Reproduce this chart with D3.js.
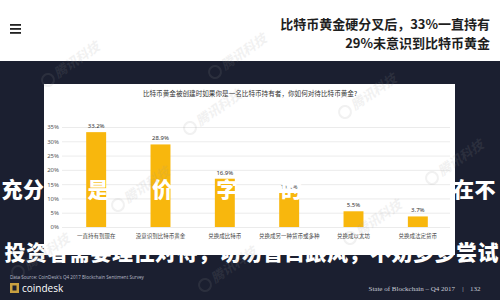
<!DOCTYPE html>
<html>
<head>
<meta charset="utf-8">
<script src="https://cdn.jsdelivr.net/npm/d3@7"></script>
<style>
  html, body { margin: 0; padding: 0; background: #fff; }
  svg { display: block; }
</style>
</head>
<body>
<div id="chart"></div>
<script>
const titleLines = ["比特币黄金硬分叉后，33%一直持有", "29%未意识到比特币黄金"];
const panelTitle = "比特币黄金被创建时如果你是一名比特币持有者，你如何对待比特币黄金?";
const categories = [
  "一直持有到现在",
  "没意识到比特币黄金",
  "兑换成比特币",
  "兑换成另一种货币或多种",
  "兑换成以太坊",
  "兑换成法定货币",
];
const values = [33.2, 28.9, 16.9, 11.9, 5.5, 3.7];
const yTicks = [0, 5, 10, 15, 20, 25, 30, 35];
// overlay brush text; spaces stand where the white glyphs vanish on the white panel
const overlayRows = [
  "充分  是  价  字  的       在不",
  "投资者需要理性对待，切勿盲目跟风，不妨多多尝试",
];
const sourceText = "Data Source: CoinDesk's Q4 2017 Blockchain Sentiment Survey";
const footerText = "State of Blockchain – Q4 2017";
const pageNumber = "132";
const watermarks = [[48, 80], [215, 72], [345, 112], [190, 128], [118, 205], [432, 178], [18, 272], [205, 285], [350, 238]];

class BarChart {
  constructor(el) {
    this.el = el;
    this.width = 500;
    this.height = 300;
    this.setup();
    this.scaffold();
    this.render();
  }

  setup() {
    this.cjk = "'Noto Sans CJK SC', 'Noto Sans', sans-serif";
    this.panel = { x: 44, y: 84, w: 411, h: 171 };

    this.x = d3
      .scaleBand()
      .domain(categories)
      .range([64, 450])
      .paddingInner(0.69)
      .paddingOuter(0.345);

    this.y = d3.scaleLinear().domain([0, 35]).range([227, 127]);
  }

  scaffold() {
    this.svg = d3
      .select(this.el)
      .append("svg")
      .attr("width", this.width)
      .attr("height", this.height)
      .attr("viewBox", [0, 0, this.width, this.height]);

    this.svg.append("rect").attr("width", this.width).attr("height", this.height).attr("fill", "#fff");
    this.svg
      .append("rect")
      .attr("y", 61)
      .attr("width", this.width)
      .attr("height", this.height - 61)
      .attr("fill", "#1b1f30");

    this.g = this.svg.append("g");
  }

  render() {
    this.renderHeader();
    this.renderPanel();
    this.renderAxis();
    this.renderBars();
    this.renderOverlay();
    this.renderFooter();
    this.renderWatermarks();
  }

  renderHeader() {
    // hamburger icon
    this.g
      .selectAll(".menu-line")
      .data([0, 1, 2])
      .join("rect")
      .attr("class", "menu-line")
      .attr("x", 10)
      .attr("y", (d) => 24 + d * 4)
      .attr("width", 11)
      .attr("height", 1.8)
      .attr("fill", "#222");

    this.g
      .selectAll(".title")
      .data(titleLines)
      .join("text")
      .attr("class", "title")
      .attr("x", 490)
      .attr("y", (d, i) => 24 + i * 19)
      .attr("dy", "0.35em")
      .attr("text-anchor", "end")
      .attr("font-family", this.cjk)
      .attr("font-weight", 700)
      .attr("font-size", 13)
      .attr("fill", "#1e1e1e")
      .text((d) => d);
  }

  renderPanel() {
    const p = this.panel;
    this.g
      .append("rect")
      .attr("x", p.x)
      .attr("y", p.y)
      .attr("width", p.w)
      .attr("height", p.h)
      .attr("fill", "#fff");

    this.g
      .append("text")
      .attr("x", 250)
      .attr("y", 94)
      .attr("dy", "0.35em")
      .attr("text-anchor", "middle")
      .attr("font-family", this.cjk)
      .attr("font-size", 6.6)
      .attr("fill", "#333")
      .text(panelTitle);
  }

  renderAxis() {
    this.g
      .append("g")
      .attr("transform", "translate(62,0)")
      .call(
        d3
          .axisLeft(this.y)
          .tickValues(yTicks)
          .tickSize(-388)
          .tickPadding(3)
          .tickFormat((d) => d + "%")
      )
      .call((g) => g.select(".domain").remove())
      .call((g) => g.selectAll(".tick line").attr("stroke", "#e6e6e6").attr("stroke-width", 0.8))
      .call((g) =>
        g
          .selectAll(".tick text")
          .attr("font-family", "'Noto Sans', sans-serif")
          .attr("font-size", 6)
          .attr("fill", "#555")
      );

    this.g
      .selectAll(".cat-label")
      .data(categories)
      .join("text")
      .attr("class", "cat-label")
      .attr("x", (d) => this.x(d) + this.x.bandwidth() / 2)
      .attr("y", 236.5)
      .attr("dy", "0.35em")
      .attr("text-anchor", "middle")
      .attr("font-family", this.cjk)
      .attr("font-size", 5.5)
      .attr("fill", "#444")
      .text((d) => d);
  }

  renderBars() {
    this.g
      .selectAll(".bar")
      .data(values)
      .join("rect")
      .attr("class", "bar")
      .attr("x", (d, i) => this.x(categories[i]))
      .attr("y", (d) => this.y(d))
      .attr("width", this.x.bandwidth())
      .attr("height", (d) => this.y(0) - this.y(d))
      .attr("fill", "#f8b70d");

    this.g
      .selectAll(".bar-label")
      .data(values)
      .join("text")
      .attr("class", "bar-label")
      .attr("x", (d, i) => this.x(categories[i]) + this.x.bandwidth() / 2)
      .attr("y", (d) => this.y(d) - 4)
      .attr("text-anchor", "middle")
      .attr("font-family", "'Noto Sans', sans-serif")
      .attr("font-size", 6)
      .attr("fill", "#333")
      .text((d) => d.toFixed(1) + "%");
  }

  renderOverlay() {
    const rowY = [190, 253];
    const rowX = [12, 15];
    const step = 21.5;
    overlayRows.forEach((row, r) => {
      const chars = Array.from(row)
        .map((c, i) => ({ c, i }))
        .filter((d) => d.c !== " ");
      this.g
        .append("g")
        .selectAll("text")
        .data(chars)
        .join("text")
        .attr("x", (d) => rowX[r] + d.i * step)
        .attr("y", rowY[r])
        .attr("dy", "0.35em")
        .attr("text-anchor", "middle")
        .attr("font-family", this.cjk)
        .attr("font-weight", 900)
        .attr("font-size", 21)
        .attr("fill", "#fff")
        .text((d) => d.c);
    });
  }

  renderFooter() {
    this.g
      .append("text")
      .attr("x", 10)
      .attr("y", 277)
      .attr("dy", "0.35em")
      .attr("font-family", "'Open Sans', sans-serif")
      .attr("font-size", 4.6)
      .attr("fill", "#b8bcc8")
      .text(sourceText);

    this.g.append("rect").attr("x", 10).attr("y", 283).attr("width", 9).attr("height", 10).attr("fill", "#c8a040");
    this.g.append("rect").attr("x", 12.5).attr("y", 285.5).attr("width", 4).attr("height", 5).attr("fill", "#1b1f30");
    this.g
      .append("text")
      .attr("x", 22)
      .attr("y", 288)
      .attr("dy", "0.35em")
      .attr("font-family", "'Open Sans', sans-serif")
      .attr("font-size", 10)
      .attr("fill", "#fff")
      .text("coindesk");

    this.g
      .append("text")
      .attr("x", 455)
      .attr("y", 289)
      .attr("dy", "0.35em")
      .attr("text-anchor", "end")
      .attr("font-family", "'Liberation Serif', serif")
      .attr("font-size", 7)
      .attr("fill", "#c9ccd6")
      .text(footerText);
    this.g
      .append("text")
      .attr("x", 463)
      .attr("y", 289)
      .attr("dy", "0.35em")
      .attr("text-anchor", "middle")
      .attr("font-family", "'Liberation Serif', serif")
      .attr("font-size", 7)
      .attr("fill", "#c9ccd6")
      .text("|");
    this.g
      .append("text")
      .attr("x", 470)
      .attr("y", 289)
      .attr("dy", "0.35em")
      .attr("font-family", "'Liberation Serif', serif")
      .attr("font-size", 7)
      .attr("fill", "#c9ccd6")
      .text(pageNumber);
  }

  renderWatermarks() {
    const wm = this.g
      .selectAll(".wm")
      .data(watermarks)
      .join("g")
      .attr("class", "wm")
      .attr("transform", (d) => `translate(${d[0]},${d[1]}) rotate(-35)`)
      .attr("opacity", 0.13);
    wm.append("circle").attr("r", 6).attr("fill", "none").attr("stroke", "#999").attr("stroke-width", 2);
    wm.append("text")
      .attr("x", 9)
      .attr("dy", "0.35em")
      .attr("font-family", this.cjk)
      .attr("font-weight", 700)
      .attr("font-style", "italic")
      .attr("font-size", 13)
      .attr("fill", "#999")
      .text("腾讯科技");
  }
}

new BarChart(document.getElementById("chart"));
</script>
</body>
</html>
